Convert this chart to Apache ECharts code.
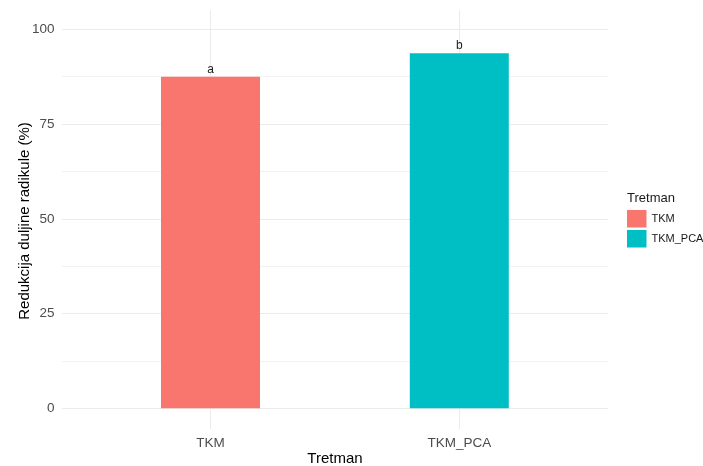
<!DOCTYPE html>
<html>
<head>
<meta charset="utf-8">
<script src="https://cdn.jsdelivr.net/npm/echarts@6/dist/echarts.min.js"></script>
<style>html,body{margin:0;padding:0;background:#fff;}#c{width:703px;height:466px;}</style>
</head>
<body>
<div id="c"></div>
<script>
const categories = ["TKM", "TKM_PCA"];
const values = [87.5, 93.7];
const letters = ["a", "b"];
const colors = ["#F8766D", "#00BFC4"];
const yTicks = [0, 25, 50, 75, 100];

const FONT = "Liberation Sans, Arial, sans-serif";
const chart = echarts.init(document.getElementById('c'), null, {renderer: 'canvas'});

const series = categories.map((cat, i) => ({
  name: cat,
  type: 'bar',
  xAxisIndex: 1,
  yAxisIndex: 1,
  barWidth: 99,
  barGap: '-100%',
  itemStyle: {color: colors[i]},
  label: {
    show: true, position: 'top', distance: 1,
    formatter: () => letters[i],
    fontFamily: FONT, fontSize: 12, color: '#1a1a1a'
  },
  data: categories.map((c, j) => j === i ? values[i] : '-')
}));

chart.setOption({
  animation: false,
  backgroundColor: '#ffffff',
  grid: [
    {left: 62, right: 95, top: 29.3, bottom: 57.7},
    {left: 86.1, right: 119.3, top: 29.3, bottom: 57.7},
    {left: 210.5, right: 243.7, top: 10, bottom: 37}
  ],
  xAxis: [
    {gridIndex: 0, type: 'value', show: false},
    {gridIndex: 1, type: 'category', data: categories, show: false},
    {gridIndex: 2, type: 'category', data: categories, boundaryGap: false,
     axisLine: {show: false}, axisTick: {show: false},
     splitLine: {show: true, lineStyle: {color: '#ebebeb', width: 1}},
     axisLabel: {fontFamily: FONT, fontSize: 13.5, color: '#4d4d4d', margin: 7}}
  ],
  yAxis: [
    {gridIndex: 0, type: 'value', min: 0, max: 100, interval: 12.5,
     axisLine: {show: false}, axisTick: {show: false},
     axisLabel: {fontFamily: FONT, fontSize: 13.5, color: '#4d4d4d', margin: 7.5,
       formatter: v => yTicks.indexOf(v) >= 0 ? String(v) : ''},
     splitLine: {show: true, lineStyle: {color: ['#ebebeb', '#f2f2f2'], width: 1}}},
    {gridIndex: 1, type: 'value', min: 0, max: 100, show: false, splitLine: {show: false}},
    {gridIndex: 2, type: 'value', show: false, splitLine: {show: false}}
  ],
  legend: {
    data: categories,
    orient: 'vertical',
    left: 627, top: 210,
    padding: 0,
    icon: 'rect',
    itemWidth: 19.5, itemHeight: 17.5, itemGap: 2.5,
    textStyle: {fontFamily: FONT, fontSize: 11, color: '#1a1a1a'},
    selectedMode: false
  },
  graphic: [
    {type: 'text', left: 627, top: 192,
     style: {text: 'Tretman', fontFamily: FONT, fontSize: 13, fill: '#1a1a1a'}},
    {type: 'text', x: 335, y: 459,
     style: {text: 'Tretman', fontFamily: FONT, fontSize: 15, fill: '#000', align: 'center', verticalAlign: 'middle'}},
    {type: 'text', x: 25, y: 221, rotation: Math.PI / 2,
     style: {text: 'Redukcija duljine radikule (%)', fontFamily: FONT, fontSize: 15, fill: '#000', align: 'center', verticalAlign: 'middle'}}
  ],
  series: series
});
</script>
</body>
</html>
